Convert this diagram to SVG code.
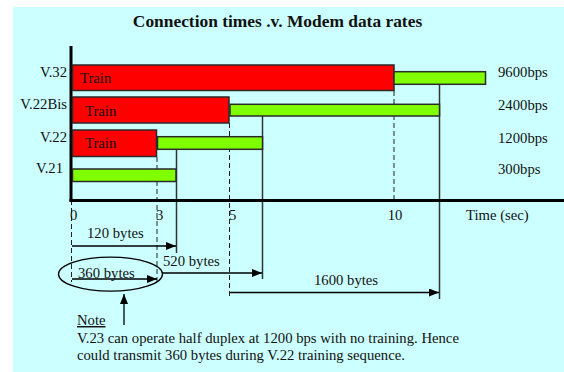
<svg xmlns="http://www.w3.org/2000/svg" width="564" height="372" viewBox="0 0 564 372">
  <defs>
    <marker id="ah" viewBox="0 0 10 8" refX="10" refY="4" markerWidth="10" markerHeight="8" markerUnits="userSpaceOnUse" orient="auto">
      <path d="M0,0 L10,4 L0,8 Z" fill="#000"/>
    </marker>
    <style>
      text { font-family: "Liberation Serif", "Times New Roman", serif; font-size: 14.7px; fill: #111; }
      .title { font-weight: bold; font-size: 17.4px; }
      .train { fill: #ff0000; stroke: #2a2a2a; stroke-width: 1.5; }
      .data { fill: #80ff00; stroke: #2a2a2a; stroke-width: 1.5; }
      .guide { stroke: #333; stroke-width: 1.5; fill: none; }
      .dash { stroke: #222; stroke-width: 1; stroke-dasharray: 5 3; fill: none; }
      .arrow { stroke: #000; stroke-width: 1.3; fill: none; marker-end: url(#ah); }
      .axis { stroke: #000; stroke-width: 3; fill: none; }
    </style>
  </defs>

  <!-- panel background -->
  <rect x="13" y="7" width="551" height="365" fill="#ccffff"/>

  <text class="title" x="277.5" y="27" text-anchor="middle">Connection times .v. Modem data rates</text>

  <!-- guide lines behind the bars -->
  <g id="connectors">
    <line class="dash" x1="394" y1="91" x2="394" y2="200"/>
    <line class="dash" x1="229.5" y1="123" x2="229.5" y2="297"/>
    <line class="dash" x1="157" y1="157" x2="157" y2="285"/>
    <line class="dash" x1="71.5" y1="200" x2="71.5" y2="282"/>
    <line class="guide" x1="176.5" y1="149" x2="176.5" y2="253"/>
    <line class="guide" x1="262.5" y1="116" x2="262.5" y2="279"/>
    <line class="guide" x1="439.5" y1="84" x2="439.5" y2="299"/>

    <line class="arrow" x1="72" y1="246" x2="176" y2="246"/>
    <line class="arrow" x1="162" y1="273" x2="262" y2="273"/>
    <line class="arrow" x1="72" y1="279" x2="157" y2="279"/>
    <line class="arrow" x1="230" y1="292.5" x2="439" y2="292.5"/>
    <line class="arrow" x1="124" y1="325" x2="124" y2="294"/>
    <ellipse cx="110.5" cy="274.2" rx="52" ry="17" fill="none" stroke="#000" stroke-width="1.3"/>
  </g>

  <!-- axes -->
  <g id="axes">
    <line class="axis" x1="71" y1="46" x2="71" y2="201.5"/>
    <line class="axis" x1="69.5" y1="200.5" x2="564" y2="200.5"/>
    <text x="70" y="220">0</text>
    <text x="156" y="220">3</text>
    <text x="229" y="220">5</text>
    <text x="395" y="220" text-anchor="middle">10</text>
    <text x="466" y="220">Time (sec)</text>
  </g>

  <g id="v32">
    <rect class="train" x="72.5" y="65" width="321.5" height="25.5"/>
    <rect class="data" x="394" y="71.7" width="91.5" height="12.6"/>
    <text x="67" y="77" text-anchor="end">V.32</text>
    <text x="80" y="83">Train</text>
    <text x="498" y="77">9600bps</text>
  </g>

  <g id="v22bis">
    <rect class="train" x="72.5" y="97" width="156.5" height="26"/>
    <rect class="data" x="230" y="104.3" width="209.5" height="11.7"/>
    <text x="67" y="109" text-anchor="end">V.22Bis</text>
    <text x="85" y="116">Train</text>
    <text x="498" y="110">2400bps</text>
  </g>

  <g id="v22">
    <rect class="train" x="72.5" y="130" width="84" height="26.5"/>
    <rect class="data" x="157.5" y="136.7" width="105" height="12.6"/>
    <text x="67" y="142" text-anchor="end">V.22</text>
    <text x="85" y="148">Train</text>
    <text x="498" y="143">1200bps</text>
  </g>

  <g id="v21">
    <rect class="data" x="72.5" y="169" width="103.5" height="12.5"/>
    <text x="63" y="173" text-anchor="end">V.21</text>
    <text x="498" y="174">300bps</text>
  </g>

  <g id="byte-labels">
    <text x="87" y="238">120 bytes</text>
    <text x="163" y="266">520 bytes</text>
    <text x="78" y="278">360 bytes</text>
    <text x="314" y="285">1600 bytes</text>
  </g>

  <g id="note">
    <text x="77" y="325" text-decoration="underline">Note</text>
    <text x="77" y="343">V.23 can operate half duplex at 1200 bps with no training. Hence</text>
    <text x="77" y="359.5">could transmit 360 bytes during V.22 training sequence.</text>
  </g>
</svg>
